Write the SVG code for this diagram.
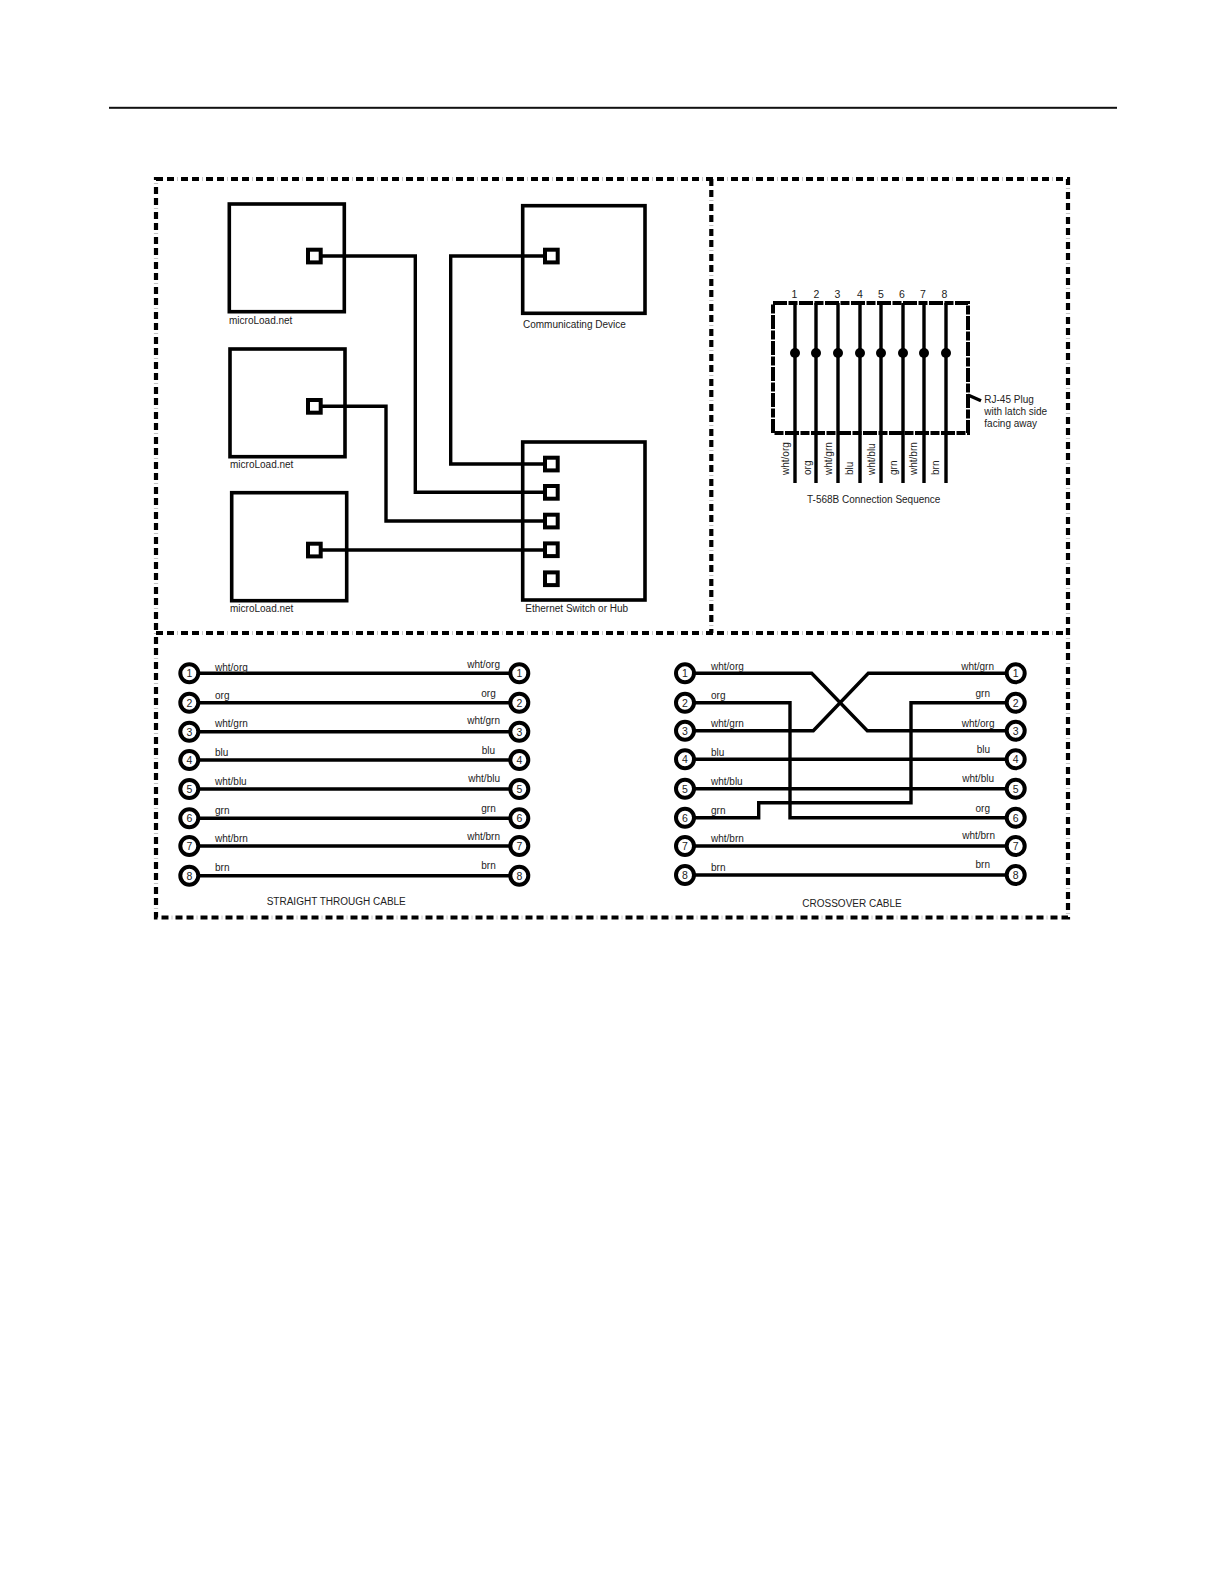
<svg xmlns="http://www.w3.org/2000/svg" width="1224" height="1584" viewBox="0 0 1224 1584">
<style>
text{font-family:"Liberation Sans",Arial,sans-serif;font-size:10px;fill:#222}
.n{font-size:10.5px;text-anchor:middle}
.e{text-anchor:end}
.box{fill:none;stroke:#000;stroke-width:3.6}
.port{fill:#fff;stroke:#000;stroke-width:4}
.w{fill:none;stroke:#000;stroke-width:3.4}
.d{fill:none;stroke:#000;stroke-width:4.2;stroke-dasharray:7 4 7 7}
.t{fill:none;stroke:#c4c4c4;stroke-width:4.2;stroke-dasharray:1 24;stroke-dashoffset:-21}
.pd{fill:none;stroke:#000;stroke-width:4;stroke-dasharray:14 1.5 9 1.5}
.c{fill:#fff;stroke:#000;stroke-width:4}
</style>
<rect x="109" y="106.8" width="1008" height="2" fill="#111"/>
<g id="frames">
<path class="t" d="M156 179H1068V917.5H156ZM711.3 179V633M156 633H1068"/>
<path class="d" d="M156 179H1068V917.5H156ZM711.3 179V633M156 633H1068"/>
</g>
<g id="connectors">
<path class="w" d="M322 256H415.3V492.3H544M322 406.3H386V521H544M322 550H544M544 256H450.7V464H544"/>
<path class="w" d="M795 303V483M816 303V483M838 303V483M860 303V483M881 303V483M903 303V483M924 303V483M946 303V483M968 395L981 400.7"/>
<path class="w" d="M199 673.3H510M199 702.7H510M199 731.7H510M199 760H510M199 789H510M199 818.3H510M199 846H510M199 875.7H510"/>
<path class="w" d="M695 673.3H811.7L867.3 730.7H1006M695 702.7H790V817.7H1006M695 730.7H813.3L868.3 673.3H1006M695 759.3H1006M695 788.7H1006M695 817.7H758.7V802.7H911V702.7H1006M695 846H1006M695 875H1006"/>
</g>
<g id="node-microload-1"><rect class="box" x="229.3" y="204" width="115" height="107.7"/><rect class="port" x="308" y="249.7" width="12.7" height="12.7"/><text x="229" y="324">microLoad.net</text></g>
<g id="node-microload-2"><rect class="box" x="230" y="349" width="115" height="107.7"/><rect class="port" x="308" y="400" width="12.7" height="12.7"/><text x="230" y="468">microLoad.net</text></g>
<g id="node-microload-3"><rect class="box" x="231.7" y="492.7" width="115" height="108"/><rect class="port" x="308" y="543.7" width="12.7" height="12.7"/><text x="230" y="611.7">microLoad.net</text></g>
<g id="node-device"><rect class="box" x="522.7" y="205.7" width="122.3" height="107.6"/><rect class="port" x="545" y="249.7" width="12.7" height="12.7"/><text x="523" y="328">Communicating Device</text></g>
<g id="node-switch"><rect class="box" x="522.7" y="442" width="122.3" height="158"/>
<rect class="port" x="545" y="457.7" width="12.7" height="12.7"/><rect class="port" x="545" y="486" width="12.7" height="12.7"/><rect class="port" x="545" y="514.7" width="12.7" height="12.7"/><rect class="port" x="545" y="543.4" width="12.7" height="12.7"/><rect class="port" x="545" y="572.4" width="12.7" height="12.7"/>
<text x="525.3" y="611.7">Ethernet Switch or Hub</text></g>
<g id="node-plug">
<rect class="pd" x="773" y="303" width="195" height="130"/>
<g fill="#000"><circle cx="795" cy="353" r="5"/><circle cx="816" cy="353" r="5"/><circle cx="838" cy="353" r="5"/><circle cx="860" cy="353" r="5"/><circle cx="881" cy="353" r="5"/><circle cx="903" cy="353" r="5"/><circle cx="924" cy="353" r="5"/><circle cx="946" cy="353" r="5"/></g>
<text class="n" x="794.5" y="298">1</text><text class="n" x="816.5" y="298">2</text><text class="n" x="837.5" y="298">3</text><text class="n" x="860" y="298">4</text><text class="n" x="881" y="298">5</text><text class="n" x="902" y="298">6</text><text class="n" x="923" y="298">7</text><text class="n" x="944.5" y="298">8</text>
<text transform="translate(789,475) rotate(-90)">wht/org</text>
<text transform="translate(811.3,475) rotate(-90)">org</text>
<text transform="translate(832,475) rotate(-90)">wht/grn</text>
<text transform="translate(852.7,475) rotate(-90)">blu</text>
<text transform="translate(874.7,475) rotate(-90)">wht/blu</text>
<text transform="translate(897.3,475) rotate(-90)">grn</text>
<text transform="translate(917.3,475) rotate(-90)">wht/brn</text>
<text transform="translate(939.3,475) rotate(-90)">brn</text>
<text x="984.3" y="403">RJ-45 Plug</text><text x="984.3" y="415">with latch side</text><text x="984.3" y="426.7">facing away</text>
<text x="807" y="502.7">T-568B Connection Sequence</text>
</g>
<g id="node-straight">
<circle class="c" cx="189.3" cy="673.3" r="9"/><circle class="c" cx="189.3" cy="702.7" r="9"/><circle class="c" cx="189.3" cy="731.7" r="9"/><circle class="c" cx="189.3" cy="760" r="9"/><circle class="c" cx="189.3" cy="789" r="9"/><circle class="c" cx="189.3" cy="818.3" r="9"/><circle class="c" cx="189.3" cy="846" r="9"/><circle class="c" cx="189.3" cy="875.7" r="9"/>
<circle class="c" cx="519.3" cy="673.3" r="9"/><circle class="c" cx="519.3" cy="702.7" r="9"/><circle class="c" cx="519.3" cy="731.7" r="9"/><circle class="c" cx="519.3" cy="760" r="9"/><circle class="c" cx="519.3" cy="789" r="9"/><circle class="c" cx="519.3" cy="818.3" r="9"/><circle class="c" cx="519.3" cy="846" r="9"/><circle class="c" cx="519.3" cy="875.7" r="9"/>
<text class="n" x="189.3" y="677">1</text><text class="n" x="189.3" y="706.5">2</text><text class="n" x="189.3" y="735.5">3</text><text class="n" x="189.3" y="764">4</text><text class="n" x="189.3" y="793">5</text><text class="n" x="189.3" y="822">6</text><text class="n" x="189.3" y="850">7</text><text class="n" x="189.3" y="879.5">8</text>
<text class="n" x="519.3" y="677">1</text><text class="n" x="519.3" y="706.5">2</text><text class="n" x="519.3" y="735.5">3</text><text class="n" x="519.3" y="764">4</text><text class="n" x="519.3" y="793">5</text><text class="n" x="519.3" y="822">6</text><text class="n" x="519.3" y="850">7</text><text class="n" x="519.3" y="879.5">8</text>
<text x="215" y="670.7">wht/org</text><text x="215" y="699.3">org</text><text x="215" y="727.3">wht/grn</text><text x="215" y="756">blu</text><text x="215" y="785">wht/blu</text><text x="215" y="814">grn</text><text x="215" y="841.7">wht/brn</text><text x="215" y="870.7">brn</text>
<text class="e" x="500" y="668.3">wht/org</text><text class="e" x="495.7" y="696.7">org</text><text class="e" x="500" y="724.3">wht/grn</text><text class="e" x="495" y="754">blu</text><text class="e" x="500" y="782.3">wht/blu</text><text class="e" x="495.7" y="811.7">grn</text><text class="e" x="500" y="840">wht/brn</text><text class="e" x="495.7" y="868.7">brn</text>
<text x="266.7" y="905">STRAIGHT THROUGH CABLE</text>
</g>
<g id="node-crossover">
<circle class="c" cx="685" cy="673.3" r="9"/><circle class="c" cx="685" cy="702.7" r="9"/><circle class="c" cx="685" cy="730.7" r="9"/><circle class="c" cx="685" cy="759.3" r="9"/><circle class="c" cx="685" cy="788.7" r="9"/><circle class="c" cx="685" cy="817.7" r="9"/><circle class="c" cx="685" cy="846" r="9"/><circle class="c" cx="685" cy="875" r="9"/>
<circle class="c" cx="1015.7" cy="673.3" r="9"/><circle class="c" cx="1015.7" cy="702.7" r="9"/><circle class="c" cx="1015.7" cy="730.7" r="9"/><circle class="c" cx="1015.7" cy="759.3" r="9"/><circle class="c" cx="1015.7" cy="788.7" r="9"/><circle class="c" cx="1015.7" cy="817.7" r="9"/><circle class="c" cx="1015.7" cy="846" r="9"/><circle class="c" cx="1015.7" cy="875" r="9"/>
<text class="n" x="685" y="677">1</text><text class="n" x="685" y="706.5">2</text><text class="n" x="685" y="734.5">3</text><text class="n" x="685" y="763">4</text><text class="n" x="685" y="792.5">5</text><text class="n" x="685" y="821.5">6</text><text class="n" x="685" y="850">7</text><text class="n" x="685" y="879">8</text>
<text class="n" x="1015.7" y="677">1</text><text class="n" x="1015.7" y="706.5">2</text><text class="n" x="1015.7" y="734.5">3</text><text class="n" x="1015.7" y="763">4</text><text class="n" x="1015.7" y="792.5">5</text><text class="n" x="1015.7" y="821.5">6</text><text class="n" x="1015.7" y="850">7</text><text class="n" x="1015.7" y="879">8</text>
<text x="711" y="670">wht/org</text><text x="711" y="699">org</text><text x="711" y="727.3">wht/grn</text><text x="711" y="756">blu</text><text x="711" y="784.7">wht/blu</text><text x="711" y="814">grn</text><text x="711" y="841.7">wht/brn</text><text x="711" y="870.7">brn</text>
<text class="e" x="994" y="670">wht/grn</text><text class="e" x="990" y="697.3">grn</text><text class="e" x="994.5" y="727.3">wht/org</text><text class="e" x="990" y="753.3">blu</text><text class="e" x="994" y="781.7">wht/blu</text><text class="e" x="990" y="812">org</text><text class="e" x="995" y="839">wht/brn</text><text class="e" x="990" y="867.7">brn</text>
<text x="802.3" y="906.7">CROSSOVER CABLE</text>
</g>
</svg>
